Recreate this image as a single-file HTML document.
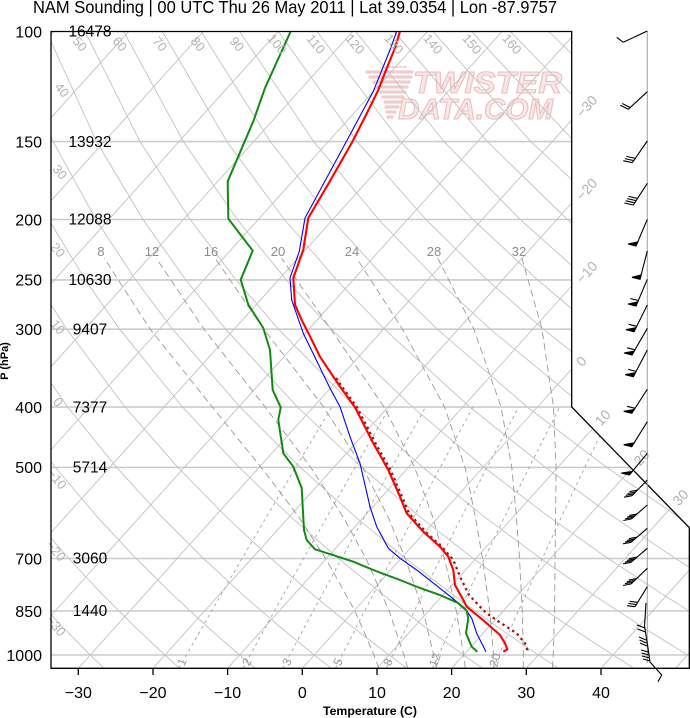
<!DOCTYPE html>
<html><head><meta charset="utf-8">
<style>
html,body{margin:0;padding:0;background:#fff;}
svg{display:block;}
text{font-family:"Liberation Sans",Arial,sans-serif;}
</style></head>
<body>
<svg width="690" height="718" viewBox="0 0 690 718" xmlns="http://www.w3.org/2000/svg">
<defs><clipPath id="c"><polygon points="51,31.5 571.7,31.5 571.7,407 689.3,527.7 689.3,668.3 51,668.3"/></clipPath></defs>
<rect width="690" height="718" fill="#fff"/>

<text x="33" y="13" font-size="17.5" textLength="524" lengthAdjust="spacingAndGlyphs" fill="#000">NAM Sounding | 00 UTC Thu 26 May 2011 | Lat 39.0354 | Lon -87.9757</text>

<g clip-path="url(#c)">
  <!-- watermark -->
  <g stroke="#f0cccc" stroke-width="3.2" stroke-linecap="round">
    <line x1="388" y1="67" x2="407" y2="67" stroke-dasharray="1.5,2.5" stroke-width="2"/>
    <line x1="367" y1="72" x2="412" y2="72"/>
    <line x1="370" y1="77" x2="411" y2="77"/>
    <line x1="374" y1="82" x2="409" y2="82"/>
    <line x1="378" y1="87" x2="407" y2="87"/>
    <line x1="381" y1="92" x2="405" y2="92"/>
    <line x1="383" y1="97" x2="403" y2="97"/>
    <line x1="385" y1="102" x2="401" y2="102"/>
    <line x1="386" y1="107" x2="398" y2="107"/>
    <line x1="387" y1="112" x2="395" y2="112"/>
    <line x1="388" y1="117" x2="392" y2="117"/>
  </g>
  <text x="413" y="93" font-size="31" font-weight="bold" font-style="italic" textLength="149" lengthAdjust="spacingAndGlyphs" fill="#f9e6e6" stroke="#ecbcbc" stroke-width="1">TWISTER</text>
  <text x="398" y="119" font-size="29" font-weight="bold" font-style="italic" textLength="155" lengthAdjust="spacingAndGlyphs" fill="#f9e6e6" stroke="#ecbcbc" stroke-width="1">DATA.COM</text>

  <!-- isobars -->
  <g stroke="#cccccc" stroke-width="1.6">
    <line x1="51" y1="141.6" x2="690" y2="141.6"/>
    <line x1="51" y1="219.5" x2="690" y2="219.5"/>
    <line x1="51" y1="279.9" x2="690" y2="279.9"/>
    <line x1="51" y1="329.2" x2="690" y2="329.2"/>
    <line x1="51" y1="407.1" x2="690" y2="407.1"/>
    <line x1="51" y1="467.4" x2="690" y2="467.4"/>
    <line x1="51" y1="558.5" x2="690" y2="558.5"/>
    <line x1="51" y1="611" x2="690" y2="611"/>
    <line x1="51" y1="655" x2="690" y2="655"/>
  </g>
  <!-- isotherms -->
  <g stroke="#c2c2c2" stroke-width="0.9">
    <line x1="-519.1" y1="668.3" x2="54.0" y2="31.5"/>
    <line x1="-444.4" y1="668.3" x2="128.7" y2="31.5"/>
    <line x1="-369.7" y1="668.3" x2="203.4" y2="31.5"/>
    <line x1="-295.1" y1="668.3" x2="278.0" y2="31.5"/>
    <line x1="-220.4" y1="668.3" x2="352.7" y2="31.5"/>
    <line x1="-145.7" y1="668.3" x2="427.4" y2="31.5"/>
    <line x1="-71.1" y1="668.3" x2="502.0" y2="31.5"/>
    <line x1="3.6" y1="668.3" x2="576.7" y2="31.5"/>
    <line x1="78.3" y1="668.3" x2="651.4" y2="31.5"/>
    <line x1="153.0" y1="668.3" x2="726.1" y2="31.5"/>
    <line x1="227.6" y1="668.3" x2="800.7" y2="31.5"/>
    <line x1="302.3" y1="668.3" x2="875.4" y2="31.5"/>
    <line x1="377.0" y1="668.3" x2="950.1" y2="31.5"/>
    <line x1="451.6" y1="668.3" x2="1024.7" y2="31.5"/>
    <line x1="526.3" y1="668.3" x2="1099.4" y2="31.5"/>
    <line x1="601.0" y1="668.3" x2="1174.1" y2="31.5"/>
    <line x1="675.6" y1="668.3" x2="1248.7" y2="31.5"/>
  </g>
  <!-- dry adiabats -->
  <g stroke="#c2c2c2" stroke-width="0.9" fill="none">
    <polyline points="103.9,668.2 90.3,655 62.1,626.5 32.5,594.6 1.2,558.5"/>
    <polyline points="179.6,668.2 164.9,655 134.6,626.5 102.5,594.6 68.7,558.5 32.7,516.8 -5.8,467.4"/>
    <polyline points="255.3,668.2 239.6,655 207.0,626.5 172.6,594.6 136.1,558.5 97.2,516.8 55.4,467.4 10.2,407.1"/>
    <polyline points="331.0,668.2 314.3,655 279.5,626.5 242.6,594.6 203.5,558.5 161.7,516.8 116.7,467.4 67.7,407.1 13.8,329.2"/>
    <polyline points="406.7,668.2 389.0,655 351.9,626.5 312.7,594.6 271.0,558.5 226.3,516.8 177.9,467.4 125.1,407.1 66.8,329.2 35.1,279.9 1.6,219.5"/>
    <polyline points="482.5,668.2 463.6,655 424.4,626.5 382.8,594.6 338.4,558.5 290.8,516.8 239.2,467.4 182.6,407.1 119.7,329.2 85.3,279.9 48.7,219.5 9.7,141.6"/>
    <polyline points="558.2,668.2 538.3,655 496.8,626.5 452.8,594.6 405.8,558.5 355.3,516.8 300.4,467.4 240.1,407.1 172.6,329.2 135.6,279.9 95.9,219.5 53.1,141.6 7.9,31.9"/>
    <polyline points="633.9,668.2 613.0,655 569.3,626.5 522.9,594.6 473.3,558.5 419.9,516.8 361.7,467.4 297.5,407.1 225.6,329.2 185.8,279.9 143.0,219.5 96.6,141.6 46.6,31.9"/>
    <polyline points="709.6,668.2 687.6,655 641.7,626.5 592.9,594.6 540.7,558.5 484.4,516.8 423.0,467.4 355.0,407.1 278.5,329.2 236.1,279.9 190.1,219.5 140.0,141.6 85.2,31.9"/>
    <polyline points="762.3,655 714.2,626.5 663.0,594.6 608.1,558.5 548.9,516.8 484.2,467.4 412.5,407.1 331.5,329.2 286.3,279.9 237.3,219.5 183.4,141.6 123.9,31.9"/>
    <polyline points="786.7,626.5 733.0,594.6 675.6,558.5 613.5,516.8 545.5,467.4 469.9,407.1 384.4,329.2 336.6,279.9 284.4,219.5 226.9,141.6 162.6,31.9"/>
    <polyline points="803.1,594.6 743.0,558.5 678.0,516.8 606.7,467.4 527.4,407.1 437.3,329.2 386.8,279.9 331.6,219.5 270.3,141.6 201.3,31.9"/>
    <polyline points="810.4,558.5 742.5,516.8 668.0,467.4 584.9,407.1 490.3,329.2 437.1,279.9 378.7,219.5 313.7,141.6 239.9,31.9"/>
    <polyline points="807.0,516.8 729.2,467.4 642.4,407.1 543.2,329.2 487.3,279.9 425.9,219.5 357.1,141.6 278.6,31.9"/>
    <polyline points="790.5,467.4 699.8,407.1 596.1,329.2 537.6,279.9 473.0,219.5 400.6,141.6 317.3,31.9"/>
    <polyline points="757.3,407.1 649.1,329.2 587.8,279.9 520.2,219.5 444.0,141.6 356.0,31.9"/>
    <polyline points="702.0,329.2 638.1,279.9 567.3,219.5 487.4,141.6 394.6,31.9"/>
    <polyline points="688.3,279.9 614.5,219.5 530.8,141.6 433.3,31.9"/>
    <polyline points="661.6,219.5 574.3,141.6 472.0,31.9"/>
    <polyline points="708.8,219.5 617.7,141.6 510.7,31.9"/>
    <polyline points="661.1,141.6 549.3,31.9"/>
    <polyline points="704.5,141.6 588.0,31.9"/>
  </g>
  <!-- moist adiabats -->
  <g stroke="#9a9a9a" stroke-width="0.9" stroke-dasharray="7,4" fill="none">
    <polyline points="378.9,668.2 374.0,655 355.0,611 325.7,558.5 298.7,516.8 261.2,467.4 212.4,407.1 150.2,329.2 104.2,258.2"/>
    <polyline points="407.7,668.2 403.9,655 389.2,611 366.0,558.5 343.0,516.8 310.8,467.4 265.2,407.1 204.0,329.2 156.2,258.2"/>
    <polyline points="436.4,668.2 433.7,655 423.1,611 405.3,558.5 388.0,516.8 362.7,467.4 323.6,407.1 263.9,329.2 215.1,258.2"/>
    <polyline points="465.3,668.2 463.6,655 456.3,611 444.5,558.5 432.6,516.8 414.6,467.4 384.1,407.1 330.8,329.2 281.6,258.2"/>
    <polyline points="494.1,668.2 493.5,655 489.8,611 482.5,558.5 475.4,516.8 465.0,467.4 444.6,407.1 402.5,329.2 356.7,258.2"/>
    <polyline points="523.3,668.2 523.3,655 522.3,611 519.5,558.5 516.4,516.8 511.8,467.4 501.1,407.1 473.9,329.2 437.7,258.2"/>
    <polyline points="552.5,668.2 553.2,655 554.7,611 555.0,558.5 555.6,516.8 556.1,467.4 553.5,407.1 542.0,329.2 521.9,258.2"/>
  </g>
  <!-- mixing ratio lines -->
  <g stroke="#a3a3a3" stroke-width="0.9" stroke-dasharray="3,3.5" fill="none">
    <polyline points="178.8,668.2 211.6,611 242.1,558.5 266.5,516.8 295.7,467.4 331.8,407.1"/>
    <polyline points="243.0,668.2 274.4,611 303.6,558.5 327.0,516.8 355.0,467.4 389.8,407.1"/>
    <polyline points="282.8,668.2 313.2,611 341.6,558.5 364.4,516.8 391.7,467.4 425.6,407.1"/>
    <polyline points="335.4,668.2 364.6,611 391.9,558.5 413.8,516.8 440.2,467.4 472.9,407.1"/>
    <polyline points="386.4,668.2 414.3,611 440.5,558.5 461.6,516.8 487.0,467.4 518.6,407.1"/>
    <polyline points="432.4,668.2 459.2,611 484.4,558.5 504.7,516.8 529.2,467.4 559.7,407.1"/>
    <polyline points="493.1,668.2 518.4,611 542.2,558.5 561.5,516.8 584.7,467.4 613.8,407.1"/>
  </g>

  <!-- sounding curves -->
  <polyline fill="none" stroke="#a01515" stroke-width="2.3" stroke-dasharray="2.4,3.4" points="336,378 342,386.7 357,407.3 375.5,443.3 390.5,470 402,496.7 409,513.3 425.5,531.7 441.7,546.7 453.3,560 460,576.7 469,595 480,606.7 486.7,613.3 500,622.5 516.7,633.3 525,643.3 527.3,650 525,652.7"/>
  <polyline fill="none" stroke="#0000ff" stroke-width="1.1" points="396.7,31.3 390,50 373.3,91.3 350,134.7 305,218 299.3,251.3 290,278 291.7,300 303.3,333.3 330,388.3 340,406.7 350,436.7 360,463.3 370,506.7 376.7,526.7 388.3,548.3 400,558.3 416.7,570 440,588.3 465,608.3 471.7,618.3 476.7,633.3 486,651.7"/>
  <polyline fill="none" stroke="#ff0000" stroke-width="2.1" points="400,31.3 395,48 386,70 378.3,90 365,117 351.7,143 330,181 308.3,218 303.3,249.7 293.3,278 295,304.7 301.7,320 310,336.3 320,356.7 340,386.7 355,407.3 373.3,443.3 388.3,470 400,496.7 406.7,513.3 423.3,531.7 440,546.7 448.3,556.7 453.3,570 455,585 463.3,600 466.7,606.7 483,620 500,635 505,643.3 507.3,649.3 503.3,651.7"/>
  <polyline fill="none" stroke="#118a11" stroke-width="2" points="290.7,31.3 265,88 253.3,121.3 243.3,144.7 227.7,181.3 228.3,218.7 252.7,250.7 240.7,279.7 248.3,304.7 263.3,328 270,350 272.7,390 280.7,407.3 278.3,420 283.3,453.3 293.3,466.7 301.7,488 302.7,506.7 304,530 306.7,540 315,549.3 340,557.3 353.3,561.7 373.3,570 400,580 420,588 440,595 458,603 466.7,610.7 468.3,618.3 466,633.3 471.7,646.7 477.3,651.7"/>
</g>

<!-- moist adiabat labels -->
<g font-size="13" fill="#8c8c8c" text-anchor="middle">
  <text x="101" y="256">8</text>
  <text x="152" y="256">12</text>
  <text x="211" y="256">16</text>
  <text x="278" y="256">20</text>
  <text x="352" y="256">24</text>
  <text x="434" y="256">28</text>
  <text x="519" y="256">32</text>
</g>
<!-- mixing ratio labels -->
<g font-size="12" fill="#9a9a9a" text-anchor="middle">
  <text x="182" y="666" transform="rotate(-65 182 662)">1</text>
  <text x="247" y="666" transform="rotate(-65 247 662)">2</text>
  <text x="287" y="666" transform="rotate(-65 287 662)">3</text>
  <text x="338" y="666" transform="rotate(-65 338 662)">5</text>
  <text x="388" y="666" transform="rotate(-65 388 662)">8</text>
  <text x="435" y="664" transform="rotate(-70 435 660)">12</text>
  <text x="495" y="664" transform="rotate(-75 495 660)">20</text>
</g>
<!-- dry adiabat labels -->
<g font-size="13" fill="#b3b3b3" text-anchor="middle">
  <text x="80" y="48.5" transform="rotate(50 80 44)">50</text>
  <text x="120" y="48.5" transform="rotate(50 120 44)">60</text>
  <text x="160" y="48.5" transform="rotate(50 160 44)">70</text>
  <text x="198" y="48.5" transform="rotate(50 198 44)">80</text>
  <text x="237" y="48.5" transform="rotate(50 237 44)">90</text>
  <text x="277" y="48.5" transform="rotate(50 277 44)">100</text>
  <text x="316" y="48.5" transform="rotate(50 316 44)">110</text>
  <text x="355" y="48.5" transform="rotate(50 355 44)">120</text>
  <text x="394" y="48.5" transform="rotate(50 394 44)">130</text>
  <text x="433" y="48.5" transform="rotate(50 433 44)">140</text>
  <text x="472" y="48.5" transform="rotate(50 472 44)">150</text>
  <text x="512" y="48.5" transform="rotate(50 512 44)">160</text>
  <text x="62" y="94.5" transform="rotate(50 62 90)">40</text>
  <text x="60" y="176.5" transform="rotate(50 60 172)">30</text>
  <text x="58" y="254.5" transform="rotate(50 58 250)">20</text>
  <text x="58" y="331.5" transform="rotate(50 58 327)">10</text>
  <text x="58" y="406.5" transform="rotate(50 58 402)">0</text>
  <text x="57" y="483.5" transform="rotate(50 57 479)">−10</text>
  <text x="56" y="555.5" transform="rotate(50 56 551)">−20</text>
  <text x="56" y="630.5" transform="rotate(50 56 626)">−30</text>
</g>
<!-- isotherm labels -->
<g font-size="14" fill="#b3b3b3">
  <text x="578.7" y="120" transform="rotate(-48 578.7 115.1)">−30</text>
  <text x="578.7" y="203" transform="rotate(-48 578.7 198.1)">−20</text>
  <text x="578.7" y="286" transform="rotate(-48 578.7 281)">−10</text>
  <text x="578.7" y="369" transform="rotate(-48 578.7 364)">0</text>
  <text x="597.5" y="428.3" transform="rotate(-48 597.5 423.4)">10</text>
  <text x="636.4" y="468.2" transform="rotate(-48 636.4 463.3)">20</text>
  <text x="675.3" y="508.2" transform="rotate(-48 675.3 503.3)">30</text>
</g>

<!-- frame -->
<path d="M51,31.5 H571.7 V407 L689.3,527.7 V668.3 H51 Z" fill="none" stroke="#000" stroke-width="1.3"/>
<g stroke="#000" stroke-width="1.3">
  <line x1="78.3" y1="668" x2="78.3" y2="675"/>
  <line x1="153" y1="668" x2="153" y2="675"/>
  <line x1="227.6" y1="668" x2="227.6" y2="675"/>
  <line x1="302.3" y1="668" x2="302.3" y2="675"/>
  <line x1="377" y1="668" x2="377" y2="675"/>
  <line x1="451.6" y1="668" x2="451.6" y2="675"/>
  <line x1="526.3" y1="668" x2="526.3" y2="675"/>
  <line x1="601" y1="668" x2="601" y2="675"/>
</g>

<g font-size="16" fill="#000" text-anchor="end">
  <text x="42" y="37.3">100</text>
  <text x="42" y="147.4">150</text>
  <text x="42" y="225.3">200</text>
  <text x="42" y="285.7">250</text>
  <text x="42" y="335">300</text>
  <text x="42" y="412.9">400</text>
  <text x="42" y="473.2">500</text>
  <text x="42" y="564.3">700</text>
  <text x="42" y="616.8">850</text>
  <text x="42" y="660.8">1000</text>
</g>
<g font-size="15.5" fill="#000" text-anchor="middle" style="font-family:'Liberation Serif',serif">
  <text x="90" y="36.5">16478</text>
  <text x="90" y="146.8">13932</text>
  <text x="90" y="224.7">12088</text>
  <text x="90" y="285.1">10630</text>
  <text x="90" y="334.4">9407</text>
  <text x="90" y="412.3">7377</text>
  <text x="90" y="472.6">5714</text>
  <text x="90" y="563.7">3060</text>
  <text x="90" y="616.2">1440</text>
</g>
<g font-size="16" fill="#000" text-anchor="middle">
  <text x="78.3" y="698">−30</text>
  <text x="153" y="698">−20</text>
  <text x="227.6" y="698">−10</text>
  <text x="302.3" y="698">0</text>
  <text x="377" y="698">10</text>
  <text x="451.6" y="698">20</text>
  <text x="526.3" y="698">30</text>
  <text x="601" y="698">40</text>
</g>
<text x="323" y="715" font-size="12" font-weight="bold" textLength="94" lengthAdjust="spacingAndGlyphs">Temperature (C)</text>
<text x="12" y="365" font-size="11" font-weight="bold" text-anchor="middle" transform="rotate(-90 8 365)">P (hPa)</text>

<!-- wind barbs -->
<line x1="647.3" y1="31" x2="647.3" y2="663" stroke="#a0a0a0" stroke-width="1"/>
<g stroke="#000" stroke-width="1.1" fill="#000">
  <line x1="647.3" y1="31" x2="623.3" y2="42.3"/>
  <line x1="623.3" y1="42.3" x2="616.7" y2="37.3"/>

  <line x1="647.3" y1="91.7" x2="628.3" y2="109.3"/>
  <line x1="628.3" y1="109.3" x2="620.3" y2="105.3"/>
  <line x1="630.2" y1="107.5" x2="622.2" y2="103.5"/>

  <line x1="647.3" y1="141" x2="632.3" y2="162.7"/>
  <line x1="632.3" y1="162.7" x2="623.3" y2="160.7"/>
  <line x1="633.8" y1="160.6" x2="624.8" y2="158.6"/>
  <line x1="635.3" y1="158.4" x2="626.3" y2="156.4"/>

  <line x1="647.3" y1="183.3" x2="633.3" y2="205"/>
  <line x1="633.3" y1="205" x2="624.3" y2="203"/>
  <line x1="634.7" y1="202.8" x2="625.7" y2="200.8"/>
  <line x1="636.1" y1="200.6" x2="627.1" y2="198.6"/>
  <line x1="637.5" y1="198.4" x2="628.5" y2="196.4"/>

  <line x1="647.3" y1="219.3" x2="636" y2="246"/>
  <polygon points="636,246 637.8,241.9 628,244"/>

  <line x1="647.3" y1="251" x2="640" y2="279.3"/>
  <polygon points="640,279.3 641.1,274.9 632,277.3"/>

  <line x1="647.3" y1="279.3" x2="636" y2="306"/>
  <polygon points="636,306 637.8,301.9 628,304"/>
  <line x1="638.3" y1="300.5" x2="630.3" y2="298.5"/>

  <line x1="647.3" y1="305" x2="634" y2="331.7"/>
  <polygon points="634,331.7 636,327.7 626,329.7"/>
  <line x1="636.7" y1="326.3" x2="628.7" y2="324.3"/>

  <line x1="647.3" y1="328.3" x2="632" y2="355"/>
  <polygon points="632,355 634.2,351.1 624,353"/>
  <line x1="635" y1="349.8" x2="627" y2="347.8"/>

  <line x1="647.3" y1="350" x2="633.3" y2="376.7"/>
  <polygon points="633.3,376.7 635.4,372.7 625.3,374.7"/>
  <line x1="636.1" y1="371.4" x2="628.1" y2="369.4"/>

  <line x1="647.3" y1="389.3" x2="631.7" y2="413.3"/>
  <polygon points="631.7,413.3 634.2,409.5 623.7,411.3"/>
  <line x1="635" y1="408.3" x2="627" y2="406.3"/>

  <line x1="647.3" y1="421.7" x2="631.7" y2="446.7"/>
  <polygon points="631.7,446.7 634.1,442.9 623.7,444.7"/>

  <line x1="647.3" y1="453.3" x2="629.3" y2="475"/>
  <polygon points="629.3,475 632.2,471.5 621.3,473"/>

  <line x1="647.3" y1="480" x2="632" y2="495.7"/>
  <line x1="632" y1="495.7" x2="624" y2="497.2"/>
  <line x1="633.8" y1="493.8" x2="625.8" y2="495.3"/>
  <line x1="635.6" y1="492" x2="627.6" y2="493.5"/>
  <line x1="637.5" y1="490.1" x2="629.5" y2="491.6"/>

  <line x1="647.3" y1="505" x2="631.3" y2="519"/>
  <line x1="631.3" y1="519" x2="623.3" y2="520.5"/>
  <line x1="633.3" y1="517.3" x2="625.3" y2="518.8"/>
  <line x1="635.2" y1="515.6" x2="627.2" y2="517.1"/>
  <line x1="637.2" y1="513.9" x2="629.2" y2="515.4"/>

  <line x1="647.3" y1="528.3" x2="631" y2="542.3"/>
  <line x1="631" y1="542.3" x2="623" y2="543.8"/>
  <line x1="633" y1="540.6" x2="625" y2="542.1"/>
  <line x1="634.9" y1="538.9" x2="626.9" y2="540.4"/>
  <line x1="636.9" y1="537.2" x2="628.9" y2="538.7"/>

  <line x1="647.3" y1="548.3" x2="631" y2="562.3"/>
  <line x1="631" y1="562.3" x2="623" y2="563.8"/>
  <line x1="633" y1="560.6" x2="625" y2="562.1"/>
  <line x1="634.9" y1="558.9" x2="626.9" y2="560.4"/>
  <line x1="636.9" y1="557.2" x2="628.9" y2="558.7"/>

  <line x1="647.3" y1="568.3" x2="631" y2="584"/>
  <line x1="631" y1="584" x2="623" y2="585.5"/>
  <line x1="632.9" y1="582.2" x2="624.9" y2="583.7"/>
  <line x1="634.7" y1="580.4" x2="626.7" y2="581.9"/>
  <line x1="636.6" y1="578.6" x2="628.6" y2="580.1"/>

  <line x1="647.3" y1="586.7" x2="635" y2="606.7"/>
  <line x1="635" y1="606.7" x2="627" y2="605.7"/>
  <line x1="636.4" y1="604.5" x2="628.4" y2="603.5"/>
  <line x1="637.7" y1="602.3" x2="629.7" y2="601.3"/>

  <polyline fill="none" points="646,603 644.5,626 648,648 650,662 661.7,675 658,681.7"/>
  <line x1="645" y1="628" x2="637" y2="625"/>
  <line x1="645.5" y1="632" x2="637.5" y2="629"/>
  <line x1="646" y1="640" x2="639" y2="637"/>
  <line x1="646.5" y1="643" x2="639.5" y2="640"/>
  <line x1="647" y1="646" x2="640" y2="643"/>
  <line x1="648.5" y1="652" x2="641" y2="650"/>
  <line x1="649" y1="655" x2="641.5" y2="653"/>
  <line x1="649.5" y1="658" x2="642" y2="656"/>
  <line x1="650" y1="661" x2="643" y2="659"/>
</g>
</svg>
</body></html>
